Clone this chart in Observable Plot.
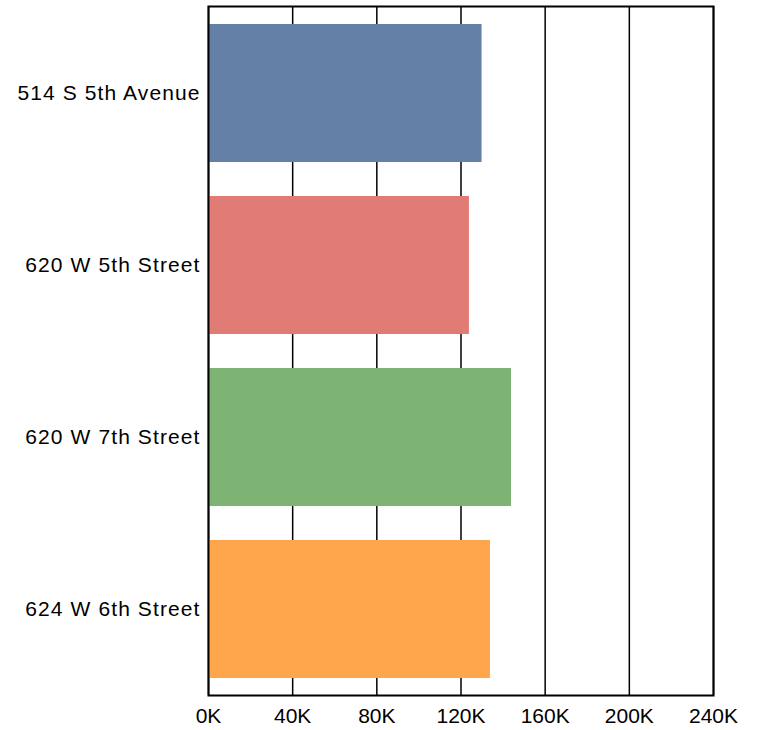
<!DOCTYPE html>
<html>
<head>
<meta charset="utf-8">
<script src="https://cdn.jsdelivr.net/npm/d3@7"></script>
<script src="https://cdn.jsdelivr.net/npm/@observablehq/plot@0.6"></script>
<style>
  html, body { margin: 0; padding: 0; background: #fff; }
  #chart svg { display: block; }
  #chart g[aria-label="y-axis tick label"] text { letter-spacing: 1.1px; }
</style>
</head>
<body>
<div id="chart"></div>
<script>
const categories = ["514 S 5th Avenue", "620 W 5th Street", "620 W 7th Street", "624 W 6th Street"];
const values = [130000, 124000, 144000, 134000];
const xTicks = [0, 40000, 80000, 120000, 160000, 200000, 240000];
const palette = ["#6580A7", "#E07B75", "#7DB373", "#FFA64C"];

const data = categories.map((c, i) => ({category: c, value: values[i]}));

const chart = Plot.plot({
  width: 760,
  height: 730,
  marginLeft: 208,
  marginRight: 47,
  marginTop: 6,
  marginBottom: 35,
  style: {fontFamily: "Liberation Sans, Arial, sans-serif", fontSize: "21px", color: "#000", background: "#fff"},
  x: {domain: [0, 240000], ticks: xTicks, tickFormat: d => d / 1000 + "K", tickSize: 0, tickPadding: 13, label: null},
  y: {domain: categories, paddingInner: 0.2, paddingOuter: 0.1, label: null},
  color: {domain: categories, range: palette},
  marks: [
    Plot.ruleX(xTicks, {stroke: "#000", strokeWidth: 1.5}),
    Plot.barX(data, {x: "value", y: "category", fill: "category"}),
    Plot.axisY({tickSize: 0, tickPadding: 8, fontSize: 21, label: null}),
    Plot.frame({stroke: "#000", strokeWidth: 2})
  ]
});
document.getElementById("chart").appendChild(chart);
</script>
</body>
</html>
